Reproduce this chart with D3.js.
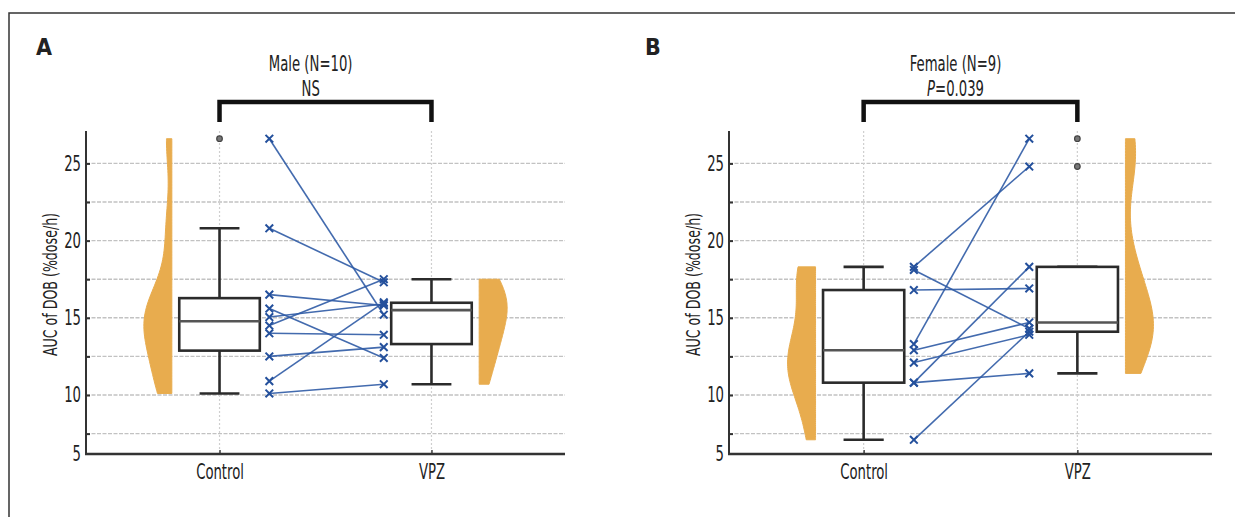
<!DOCTYPE html>
<html>
<head>
<meta charset="utf-8">
<script src="https://cdn.jsdelivr.net/npm/d3@7"></script>
<style>
body { margin: 0; background: #fff; }
text { font-family: "DejaVu Sans Condensed", "DejaVu Sans", sans-serif; fill: #222; }
</style>
</head>
<body>
<svg id="chart" width="1235" height="517"></svg>
<script>
// values (AUC of DOB, %dose/h), paired by subject
const categories = ["Control", "VPZ"];
const maleControl = [26.6, 20.8, 16.5, 15.6, 15.05, 14.5, 14.0, 12.5, 10.9, 10.1];
const maleVPZ = [15.2, 17.3, 15.8, 12.4, 15.9, 17.5, 13.9, 13.1, 16.0, 10.7];
const femaleControl = [18.3, 18.1, 16.8, 13.3, 12.9, 12.1, 10.8, 10.8, 7.1];
const femaleVPZ = [24.8, 14.3, 16.9, 26.6, 14.7, 13.9, 11.4, 18.3, 14.1];
const yTickValues = [5, 10, 15, 20, 25];
const yGridValues = [7.5, 10, 12.5, 15, 17.5, 20, 22.5, 25];
const panelLetters = ["A", "B"];
const panelTitles = ["Male (N=10)", "Female (N=9)"];
const testLabels = ["NS", "P=0.039"];

const panels = [
    { letter: panelLetters[0], title: panelTitles[0], test: testLabels[0],
      control: maleControl, vpz: maleVPZ, left: 86, right: 565, letterX: 36 },
    { letter: panelLetters[1], title: panelTitles[1], test: testLabels[1],
      control: femaleControl, vpz: femaleVPZ, left: 729, right: 1212, letterX: 645 }
];

const plotTop = 131, plotBottom = 454;
const blue = "#2f5ba6";
const orange = "#e8ac4e";

const svg = d3.select("#chart");

// outer frame (top and left edges only)
svg.append("path")
    .attr("d", "M9,517V13H1235")
    .attr("fill", "none")
    .attr("stroke", "#333")
    .attr("stroke-width", 1.5);

// the original uses a narrow condensed face, so squash the text horizontally
function squeeze(sel, k = 0.7) {
    sel.each(function () {
        const len = this.getComputedTextLength();
        d3.select(this)
            .attr("textLength", len * k)
            .attr("lengthAdjust", "spacingAndGlyphs");
    });
}

function boxStats(values) {
    const s = values.slice().sort(d3.ascending);
    const q1 = d3.quantile(s, 0.25), med = d3.quantile(s, 0.5), q3 = d3.quantile(s, 0.75);
    const iqr = q3 - q1;
    const inside = s.filter(v => v >= q1 - 1.5 * iqr && v <= q3 + 1.5 * iqr);
    return { q1, med, q3, lo: d3.min(inside), hi: d3.max(inside),
             out: s.filter(v => v < q1 - 1.5 * iqr || v > q3 + 1.5 * iqr) };
}

// kernel density like matlab ksdensity default bandwidth
function density(values, steps) {
    const n = values.length;
    const med = d3.median(values);
    const mad = d3.median(values, v => Math.abs(v - med));
    const bw = (mad / 0.6745) * Math.pow(4 / (3 * n), 0.2);
    const lo = d3.min(values), hi = d3.max(values);
    return d3.range(steps + 1).map(i => {
        const v = lo + (hi - lo) * i / steps;
        return [v, d3.mean(values, x => Math.exp(-0.5 * ((v - x) / bw) ** 2))];
    });
}

function drawPanel(p) {
    const g = svg.append("g");
    const x = d3.scaleLinear().domain([0.37, 2.63]).range([p.left, p.right]);
    const y = d3.scaleLinear().domain([6.18, 27.1]).range([plotBottom, plotTop]).clamp(true);

    // grid
    g.selectAll(".hgrid")
        .data(yGridValues)
        .join("line")
        .attr("x1", p.left).attr("x2", p.right)
        .attr("y1", d => y(d)).attr("y2", d => y(d))
        .attr("stroke", "#c2c2c2")
        .attr("stroke-width", 1.4)
        .attr("stroke-dasharray", "4,1.5");

    g.selectAll(".vgrid")
        .data([1, 2])
        .join("line")
        .attr("x1", d => x(d)).attr("x2", d => x(d))
        .attr("y1", plotTop).attr("y2", plotBottom)
        .attr("stroke", "#cfcfcf")
        .attr("stroke-width", 1.2)
        .attr("stroke-dasharray", "2,2");

    // half violins
    const groups = [p.control, p.vpz];
    groups.forEach((vals, i) => {
        const dens = density(vals, 80);
        const maxD = d3.max(dens, d => d[1]);
        const side = i === 0 ? -1 : 1;
        const edge = x(i + 1 + side * 0.225);
        const w = d3.scaleLinear().domain([0, maxD]).range([0, 28]);
        g.append("path")
            .datum(dens)
            .attr("d", d3.area()
                .y(d => y(d[0]))
                .x0(edge)
                .x1(d => edge + side * w(d[1]))
                .curve(d3.curveBasis))
            .attr("fill", orange)
            .attr("stroke", orange)
            .attr("stroke-width", 1);
    });

    // box plots
    groups.forEach((vals, i) => {
        const st = boxStats(vals);
        const c = i + 1;
        const bx = g.append("g").attr("stroke", "#2b2b2b").attr("stroke-width", 2.6).attr("fill", "none");
        bx.append("line").attr("x1", x(c)).attr("x2", x(c)).attr("y1", y(st.hi)).attr("y2", y(st.q3));
        bx.append("line").attr("x1", x(c)).attr("x2", x(c)).attr("y1", y(st.q1)).attr("y2", y(st.lo));
        bx.append("line").attr("x1", x(c - 0.094)).attr("x2", x(c + 0.094)).attr("y1", y(st.hi)).attr("y2", y(st.hi));
        bx.append("line").attr("x1", x(c - 0.094)).attr("x2", x(c + 0.094)).attr("y1", y(st.lo)).attr("y2", y(st.lo));
        bx.append("rect")
            .attr("x", x(c - 0.19)).attr("width", x(c + 0.19) - x(c - 0.19))
            .attr("y", y(st.q3)).attr("height", y(st.q1) - y(st.q3))
            .attr("fill", "#fff");
        bx.append("line").attr("x1", x(c - 0.19)).attr("x2", x(c + 0.19))
            .attr("y1", y(st.med)).attr("y2", y(st.med))
            .attr("stroke", "#555");
        g.selectAll(null)
            .data(st.out)
            .join("circle")
            .attr("cx", x(c)).attr("cy", d => y(d))
            .attr("r", 2.8)
            .attr("fill", "#777")
            .attr("stroke", "#444")
            .attr("stroke-width", 1.2);
    });

    // paired observations
    const pairs = p.control.map((v, i) => [v, p.vpz[i]]);
    const xa = 1.235, xb = 1.775;
    g.selectAll(".pair")
        .data(pairs)
        .join("line")
        .attr("x1", x(xa)).attr("x2", x(xb))
        .attr("y1", d => y(d[0])).attr("y2", d => y(d[1]))
        .attr("stroke", blue)
        .attr("stroke-width", 1.6)
        .attr("opacity", 0.9);

    const cross = d3.symbol(d3.symbolTimes, 40);
    const marks = pairs.flatMap(d => [[xa, d[0]], [xb, d[1]]]);
    g.selectAll(".mark")
        .data(marks)
        .join("path")
        .attr("d", cross)
        .attr("transform", d => `translate(${x(d[0])},${y(d[1])})`)
        .attr("fill", "none")
        .attr("stroke", "#24509c")
        .attr("stroke-width", 2);

    // axes
    const yAxis = g.append("g")
        .attr("transform", `translate(${p.left},0)`)
        .call(d3.axisLeft(y).tickValues(yTickValues).tickSize(0).tickPadding(5));
    yAxis.select(".domain").remove();
    yAxis.selectAll("text").attr("font-size", 21).attr("fill", "#222").call(squeeze);

    const yMinor = g.append("g")
        .attr("transform", `translate(${p.left},0)`)
        .call(d3.axisRight(y).tickValues(yGridValues).tickSize(4).tickFormat(""));
    yMinor.select(".domain").remove();
    yMinor.selectAll("line").attr("stroke", "#333").attr("stroke-width", 2);

    const xAxis = g.append("g")
        .attr("transform", `translate(0,${plotBottom})`)
        .call(d3.axisBottom(x).tickValues([1, 2]).tickFormat(d => categories[d - 1]).tickSize(-4).tickPadding(10));
    xAxis.select(".domain").remove();
    xAxis.selectAll("line").attr("stroke", "#444").attr("stroke-width", 1.5);
    xAxis.selectAll("text").attr("font-size", 21).attr("fill", "#222").call(squeeze);

    g.append("line")
        .attr("x1", p.left).attr("x2", p.left).attr("y1", plotTop).attr("y2", plotBottom)
        .attr("stroke", "#333").attr("stroke-width", 2);
    g.append("line")
        .attr("x1", p.left - 1).attr("x2", p.right).attr("y1", plotBottom).attr("y2", plotBottom)
        .attr("stroke", "#333").attr("stroke-width", 2.5);

    g.append("text")
        .attr("transform", `translate(${p.left - 29},${(plotTop + plotBottom) / 2 - 8}) rotate(-90)`)
        .attr("text-anchor", "middle")
        .attr("font-size", 20)
        .text("AUC of DOB (%dose/h)")
        .call(squeeze);

    // significance bracket
    g.append("path")
        .attr("d", `M${x(1)},122V102H${x(2)}V122`)
        .attr("fill", "none")
        .attr("stroke", "#111")
        .attr("stroke-width", 4.5);

    g.append("text")
        .attr("x", x(1.43)).attr("y", 71)
        .attr("text-anchor", "middle")
        .attr("font-size", 21)
        .text(p.title)
        .call(squeeze);

    // test result: squash with a transform so the italic P stays one run
    const t = g.append("text")
        .attr("transform", `translate(${x(1.43)},96) scale(0.7,1)`)
        .attr("text-anchor", "middle")
        .attr("font-size", 21);
    if (p.test.startsWith("P=")) {
        t.append("tspan").attr("font-style", "italic").text("P");
        t.append("tspan").text(p.test.slice(1));
    } else {
        t.text(p.test);
    }

    g.append("text")
        .attr("x", p.letterX).attr("y", 55)
        .attr("font-family", "Liberation Sans, Arial, sans-serif")
        .attr("font-weight", "bold")
        .attr("font-size", 23)
        .attr("fill", "#0d3a6c")
        .text(p.letter);
}

panels.forEach(drawPanel);
</script>
</body>
</html>
